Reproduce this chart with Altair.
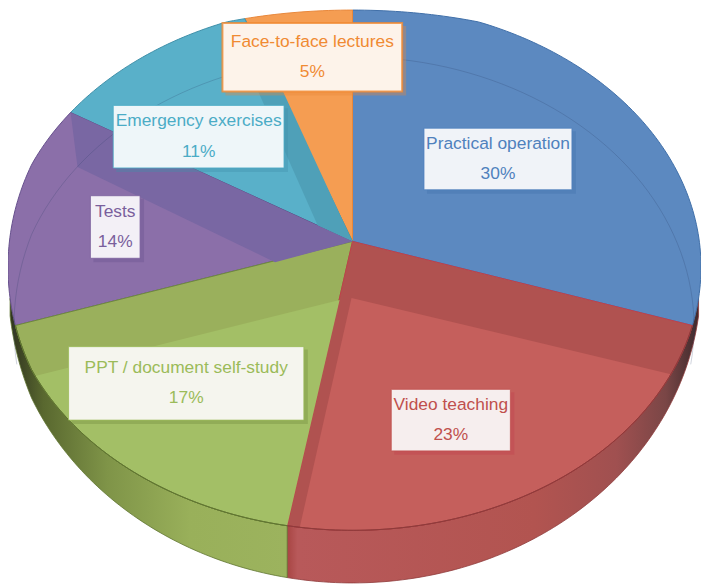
import math
import altair as alt
import pandas as pd

# ---- chart values
categories = ["Practical operation", "Video teaching", "PPT / document self-study",
              "Tests", "Emergency exercises", "Face-to-face lectures"]
percents = [30, 23, 17, 14, 11, 5]
# the sweep each slice occupies on the tilted disc, in degrees
sweeps = [102.8, 88.0, 66.4, 48.8, 36.0, 18.0]

# ---- styles
face = ["#5c89c0", "#c55f5c", "#a3bf66", "#8b6fa9", "#59b0c9", "#f59d52"]
edge = ["#3f6fa8", "#c0404a", "#6f8a3c", "#66508c", "#3f8fa8", "#e8873a"]
ink = ["#4f81bd", "#c0504d", "#9bbb59", "#7a5f9c", "#4bacc6", "#f08a32"]
box_fill = ["#f0f3f8", "#f6eeee", "#f5f5ee", "#f3f0f6", "#eef6f9", "#fdf3ea"]

# ---- label placement (left, right, top, bottom)
boxes = [(425, 574, 127, 189), (392, 512, 390, 452), (67, 304, 347, 421),
         (89, 139, 195, 258), (112, 284, 104, 167), (222, 403, 21, 90)]

# ---- disc geometry in picture coordinates
CX, CY, RX, RY = 353, 267, 351, 265      # upper face
HUB = (353, 241)                         # where the slices meet
RIM_CY, RIM_RY = 280, 305                # lower rim of the side wall
# identity with the page margin, except a small squeeze at the far left and top edges
XS = alt.Scale(domain=[2, 30, 704], range=[0, 24, 698], nice=False, zero=False)
YS = alt.Scale(domain=[586, 20, 2], range=[578, 12, 0], nice=False, zero=False)


def on_face(t):
    r = math.radians(t)
    return (CX + RX * math.sin(r), CY - RY * math.cos(r))


def on_rim(t):
    r = math.radians(t)
    return (CX + RX * math.sin(r), RIM_CY - RIM_RY * math.cos(r))


def sweep(a, b, fn=on_face):
    n = max(2, int(abs(b - a)) + 1)
    return [fn(a + (b - a) * i / (n - 1)) for i in range(n)]


def poly(points, fill, stroke=None, width=1.0, opacity=1.0):
    pts = list(points) + [points[0]]
    df = pd.DataFrame({"px": [p[0] for p in pts], "py": [p[1] for p in pts],
                       "i": list(range(len(pts)))})
    kw = dict(fill=fill, strokeWidth=width if stroke else 0, strokeJoin="round", opacity=opacity)
    kw["stroke"] = stroke if stroke else "transparent"
    return alt.Chart(df).mark_line(**kw).encode(
        x=alt.X("px:Q", scale=XS, axis=None),
        y=alt.Y("py:Q", scale=YS, axis=None),
        order=alt.Order("i:Q"),
    )


def grad(stops):
    return alt.Gradient(gradient="linear", x1=0, x2=1, y1=0, y2=0,
                        stops=[alt.GradientStop(offset=o, color=c) for o, c in stops])


starts = []
acc = 0.0
for s in sweeps:
    starts.append(acc)
    acc += s
wedge = {i: [HUB] + sweep(starts[i], starts[i] + sweeps[i]) for i in range(6)}
b_red, b_green, b_purple, b_teal, b_orange = starts[1:]
end_red = b_green

layers = []
# side walls
layers.append(poly(sweep(b_red - 6, end_red) + sweep(end_red, b_red - 6, on_rim),
                   grad([(0, "#a84543"), (0.025, "#b8595a"), (0.6, "#b25450"), (0.8, "#a05050"),
                         (0.92, "#7a4646"), (1, "#3f2a2c")]), "#8f3a3a", 0.8))
layers.append(poly(sweep(b_green, b_purple + 6) + sweep(b_purple + 6, b_green, on_rim),
                   grad([(0, "#30341f"), (0.12, "#59682f"), (0.35, "#7f9448"), (0.65, "#99b05a"),
                         (1, "#9cb35e")]), "#5f7430", 0.8))

# faces
for i, dark in ((0, face[0]), (5, face[5]), (4, face[4]), (3, face[3]), (2, "#9ab05c"), (1, "#b05250")):
    layers.append(poly(wedge[i], dark, edge[i], 1.0))

# shaded bands
layers.append(poly([(258, 90), (318, 225), HUB, (283, 90)], "#4fa0b8"))
layers.append(poly([HUB, on_face(b_teal), (76, 166), (275, 262)], "#7967a3"))
layers.append(poly([(340, 300)] + sweep(b_green, 245.6), face[2]))
layers.append(poly([(352, 298)] + sweep(114, 188.7), face[1]))
# front rim line over the lighter patches
layers.append(poly(sweep(b_red, end_red) + sweep(end_red, b_red), "transparent", "#8f3a3a", 0.9))
layers.append(poly(sweep(b_green, b_purple) + sweep(b_purple, b_green), "transparent", "#5f7430", 0.9))

# thin inner ring on the far half
ring = [(353 + 344 * math.sin(math.radians(t)), 327 - 272 * math.cos(math.radians(t)))
        for t in range(-98, 99, 2)]
ring_df = pd.DataFrame({"px": [p[0] for p in ring], "py": [p[1] for p in ring], "i": range(len(ring))})
layers.append(alt.Chart(ring_df).mark_line(stroke="#2a3a66", strokeWidth=0.8, opacity=0.28).encode(
    x=alt.X("px:Q", scale=XS, axis=None), y=alt.Y("py:Q", scale=YS, axis=None), order=alt.Order("i:Q")))

# labels
for i, (l, r, t, b) in enumerate(boxes):
    shadow = pd.DataFrame({"a": [l + 3], "b": [r + 4], "c": [t + 3], "d": [b + 4]})
    layers.append(alt.Chart(shadow).mark_rect(fill=edge[i], opacity=0.35).encode(
        x=alt.X("a:Q", scale=XS, axis=None), x2="b:Q",
        y=alt.Y("c:Q", scale=YS, axis=None), y2="d:Q"))
    card = pd.DataFrame({"a": [l], "b": [r], "c": [t], "d": [b]})
    sw = 2 if i == 5 else 1
    layers.append(alt.Chart(card).mark_rect(fill=box_fill[i], stroke=ink[i], strokeWidth=sw, strokeOpacity=0.8).encode(
        x=alt.X("a:Q", scale=XS, axis=None), x2="b:Q",
        y=alt.Y("c:Q", scale=YS, axis=None), y2="d:Q"))
    mid = (t + b) / 2
    text_df = pd.DataFrame({"px": [(l + r) / 2, (l + r) / 2],
                            "py": [mid - 15.5, mid + 15],
                            "s": [categories[i], f"{percents[i]}%"]})
    layers.append(alt.Chart(text_df).mark_text(font="Liberation Sans", fontSize=17.5, color=ink[i],
                                               align="center", baseline="middle").encode(
        x=alt.X("px:Q", scale=XS, axis=None), y=alt.Y("py:Q", scale=YS, axis=None), text="s:N"))

chart = alt.layer(*layers).properties(width=698, height=578, padding=0, background="white",
                                      autosize=alt.AutoSizeParams(type="none")).configure_view(stroke=None)
chart.save("out.html", embed_options={"renderer": "svg", "actions": False})
